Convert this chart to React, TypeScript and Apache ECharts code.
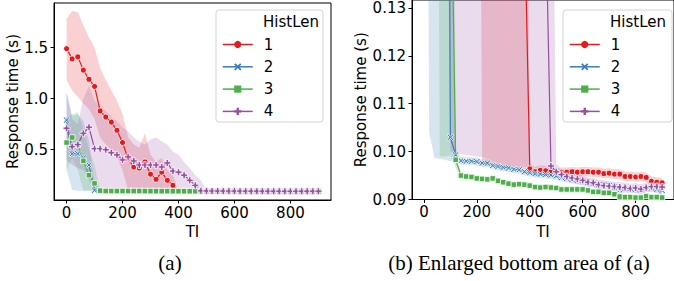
import React, { useEffect, useRef } from "react";
import * as echarts from "echarts";

// ---------- data ----------
const TI = [0, 20, 40, 60, 80, 100, 120, 140, 160, 180, 200, 220, 240, 260, 280, 300, 320, 340, 360, 380, 400, 420, 440, 460, 480, 500, 520, 540, 560, 580, 600, 620, 640, 660, 680, 700, 720, 740, 760, 780, 800, 820, 840, 860, 880, 900];

const h1Mean = [1.49, 1.39, 1.41, 1.28, 1.19, 1.12, 0.88, 0.82, 0.77, 0.69, 0.57, 0.41, 0.33, 0.32, 0.38, 0.26, 0.21, 0.28, 0.20, 0.15, 0.0964, 0.0958, 0.0961, 0.0960, 0.0958, 0.0955, 0.0957, 0.0957, 0.0958, 0.0957, 0.0958, 0.0958, 0.0957, 0.0957, 0.0954, 0.0955, 0.0953, 0.0953, 0.0948, 0.0948, 0.0947, 0.0948, 0.0946, 0.0938, 0.0936, 0.0935];
const h1Hi = [1.78, 1.86, 1.85, 1.72, 1.60, 1.50, 1.30, 1.18, 1.08, 0.98, 0.85, 0.62, 0.55, 0.52, 0.66, 0.45, 0.38, 0.42, 0.30, 0.25, 0.0974, 0.0968, 0.0971, 0.0970, 0.0968, 0.0965, 0.0967, 0.0967, 0.0968, 0.0967, 0.0968, 0.0968, 0.0967, 0.0967, 0.0964, 0.0965, 0.0963, 0.0963, 0.0958, 0.0958, 0.0957, 0.0958, 0.0956, 0.0948, 0.0946, 0.0945];
const h1Lo = [1.18, 1.08, 1.02, 0.95, 0.90, 0.80, 0.62, 0.55, 0.50, 0.42, 0.30, 0.0972, 0.0970, 0.0969, 0.0968, 0.0968, 0.0967, 0.0966, 0.0966, 0.0965, 0.0954, 0.0948, 0.0951, 0.0950, 0.0948, 0.0945, 0.0947, 0.0947, 0.0948, 0.0947, 0.0948, 0.0948, 0.0947, 0.0947, 0.0944, 0.0945, 0.0943, 0.0943, 0.0938, 0.0938, 0.0937, 0.0938, 0.0936, 0.0928, 0.0926, 0.0925];

const h2Mean = [0.79, 0.46, 0.46, 0.42, 0.35, 0.103, 0.0993, 0.0981, 0.0980, 0.0980, 0.0979, 0.0976, 0.0976, 0.0971, 0.0969, 0.0967, 0.0966, 0.0963, 0.0962, 0.0958, 0.0956, 0.0954, 0.0953, 0.0952, 0.0951, 0.0949, 0.0946, 0.0944, 0.0942, 0.0940, 0.0939, 0.0936, 0.0934, 0.0931, 0.0931, 0.0929, 0.0926, 0.0920, 0.0923, 0.0923, 0.0921, 0.0920, 0.0923, 0.0924, 0.0921, 0.0919];
const h2Hi = [1.08, 0.83, 0.85, 0.78, 0.60, 0.16, 0.1003, 0.0989, 0.0988, 0.0988, 0.0987, 0.0984, 0.0984, 0.0979, 0.0977, 0.0975, 0.0974, 0.0971, 0.0970, 0.0966, 0.0964, 0.0962, 0.0961, 0.0960, 0.0959, 0.0957, 0.0954, 0.0952, 0.0950, 0.0948, 0.0947, 0.0944, 0.0942, 0.0939, 0.0939, 0.0937, 0.0934, 0.0928, 0.0931, 0.0931, 0.0929, 0.0928, 0.0931, 0.0932, 0.0929, 0.0927];
const h2Lo = [0.30, 0.104, 0.0986, 0.0985, 0.0983, 0.0980, 0.0983, 0.0973, 0.0972, 0.0972, 0.0971, 0.0968, 0.0968, 0.0963, 0.0961, 0.0959, 0.0958, 0.0955, 0.0954, 0.0950, 0.0948, 0.0946, 0.0945, 0.0944, 0.0943, 0.0941, 0.0938, 0.0936, 0.0934, 0.0932, 0.0931, 0.0928, 0.0926, 0.0923, 0.0923, 0.0921, 0.0918, 0.0912, 0.0915, 0.0915, 0.0913, 0.0912, 0.0915, 0.0916, 0.0913, 0.0911];

const h3Mean = [0.57, 0.62, 0.55, 0.39, 0.25, 0.17, 0.0983, 0.0950, 0.0948, 0.0947, 0.0944, 0.0943, 0.0942, 0.0944, 0.0939, 0.0936, 0.0933, 0.0931, 0.0932, 0.0931, 0.0929, 0.0926, 0.0925, 0.0926, 0.0925, 0.0924, 0.0921, 0.0921, 0.0921, 0.0921, 0.0921, 0.0919, 0.0916, 0.0916, 0.0914, 0.0914, 0.0911, 0.0906, 0.0905, 0.0905, 0.0904, 0.0904, 0.0907, 0.0905, 0.0905, 0.0904];
const h3Hi = [0.82, 0.85, 0.87, 0.70, 0.50, 0.35, 0.0990, 0.0956, 0.0954, 0.0953, 0.0950, 0.0949, 0.0948, 0.0950, 0.0945, 0.0942, 0.0939, 0.0937, 0.0938, 0.0937, 0.0935, 0.0932, 0.0931, 0.0932, 0.0931, 0.0930, 0.0927, 0.0927, 0.0927, 0.0927, 0.0927, 0.0925, 0.0922, 0.0922, 0.0920, 0.0920, 0.0917, 0.0912, 0.0911, 0.0911, 0.0910, 0.0910, 0.0913, 0.0911, 0.0911, 0.0910];
const h3Lo = [0.30, 0.42, 0.30, 0.0990, 0.0990, 0.0992, 0.0965, 0.0944, 0.0942, 0.0941, 0.0938, 0.0937, 0.0936, 0.0938, 0.0933, 0.0930, 0.0927, 0.0925, 0.0926, 0.0925, 0.0923, 0.0920, 0.0919, 0.0920, 0.0919, 0.0918, 0.0915, 0.0915, 0.0915, 0.0915, 0.0915, 0.0913, 0.0910, 0.0910, 0.0908, 0.0908, 0.0905, 0.0900, 0.0899, 0.0899, 0.0898, 0.0898, 0.0901, 0.0899, 0.0899, 0.0898];

const h4Mean = [0.71, 0.53, 0.55, 0.66, 0.72, 0.51, 0.51, 0.50, 0.47, 0.45, 0.40, 0.43, 0.39, 0.35, 0.35, 0.35, 0.35, 0.33, 0.37, 0.29, 0.28, 0.25, 0.20, 0.15, 0.0970, 0.0958, 0.0952, 0.0948, 0.0945, 0.0943, 0.0940, 0.0936, 0.0935, 0.0931, 0.0929, 0.0928, 0.0927, 0.0926, 0.0925, 0.0923, 0.0924, 0.0922, 0.0925, 0.0927, 0.0927, 0.0926];
const h4Hi = [1.05, 0.80, 0.75, 1.00, 1.13, 0.98, 0.92, 0.88, 0.82, 0.78, 0.72, 0.68, 0.62, 0.58, 0.55, 0.60, 0.62, 0.58, 0.55, 0.48, 0.45, 0.38, 0.32, 0.25, 0.20, 0.0975, 0.0962, 0.0958, 0.0955, 0.0953, 0.0950, 0.0946, 0.0945, 0.0941, 0.0939, 0.0938, 0.0937, 0.0936, 0.0935, 0.0933, 0.0934, 0.0932, 0.0935, 0.0937, 0.0937, 0.0936];
const h4Lo = [0.40, 0.35, 0.32, 0.30, 0.20, 0.1000, 0.0998, 0.0995, 0.0993, 0.0992, 0.0990, 0.0988, 0.0985, 0.0980, 0.0978, 0.0975, 0.0973, 0.0971, 0.0970, 0.0968, 0.0966, 0.0965, 0.0963, 0.0962, 0.0958, 0.0948, 0.0942, 0.0938, 0.0935, 0.0933, 0.0930, 0.0926, 0.0925, 0.0921, 0.0919, 0.0918, 0.0917, 0.0916, 0.0915, 0.0913, 0.0914, 0.0912, 0.0915, 0.0917, 0.0917, 0.0916];

const SERIES_NAMES = ["1", "2", "3", "4"];
const X_TICKS = [0, 200, 400, 600, 800];
const YA_TICKS = [0.5, 1.0, 1.5];
const YB_TICKS = [0.09, 0.1, 0.11, 0.12, 0.13];

// ---------- styling ----------
const MEANS = [h1Mean, h2Mean, h3Mean, h4Mean];
const HIS = [h1Hi, h2Hi, h3Hi, h4Hi];
const LOS = [h1Lo, h2Lo, h3Lo, h4Lo];
const COLORS = ["#e41a1c", "#377eb8", "#4daf4a", "#984ea3"];
const BAND_COLORS = ["rgba(228,26,28,0.2)", "rgba(55,126,184,0.2)", "rgba(77,175,74,0.2)", "rgba(152,78,163,0.2)"];
const X_PATH = "path://M0,1 L1,0 L3,2 L5,0 L6,1 L4,3 L6,5 L5,6 L3,4 L1,6 L0,5 L2,3 Z";
const PLUS_PATH = "path://M2,0 L4,0 L4,2 L6,2 L6,4 L4,4 L4,6 L2,6 L2,4 L0,4 L0,2 L2,2 Z";
const SYMBOLS = ["circle", X_PATH, "rect", PLUS_PATH];
const SIZES = [6, 6.5, 5.5, 7];
const FONT = "'DejaVu Sans', sans-serif";
const SERIF = "'Liberation Serif', 'Times New Roman', serif";
const TXT = "#000";

function bandSeries(p: number, k: number) {
  return {
    type: "custom", name: `band${p}${k}`, xAxisIndex: p, yAxisIndex: p, silent: true, z: 1,
    data: [[TI[0], MEANS[k][0]]],
    renderItem: (params: any, api: any) => {
      const pts: number[][] = [];
      for (let i = 0; i < TI.length; i++) pts.push(api.coord([TI[i], HIS[k][i]]));
      for (let i = TI.length - 1; i >= 0; i--) pts.push(api.coord([TI[i], LOS[k][i]]));
      const cs = params.coordSys;
      return {
        type: "polygon",
        shape: { points: pts },
        style: { fill: BAND_COLORS[k], stroke: "none" },
        clipPath: { type: "rect", shape: { x: cs.x, y: cs.y, width: cs.width, height: cs.height } },
      };
    },
  };
}

function buildOption() {
  const series: any[] = [];
  for (let p = 0; p < 2; p++) {
    for (let k = 0; k < 4; k++) series.push(bandSeries(p, k));
    for (let k = 0; k < 4; k++) {
      series.push({
        type: "line", name: SERIES_NAMES[k], xAxisIndex: p, yAxisIndex: p,
        data: TI.map((x, i) => [x, MEANS[k][i]]),
        symbol: SYMBOLS[k], symbolSize: SIZES[k], showAllSymbol: true, z: 3,
        color: COLORS[k],
        lineStyle: { width: 1.2, color: COLORS[k] },
        itemStyle: { color: COLORS[k], borderColor: "#fff", borderWidth: 0.8 },
      });
    }
  }

  const xAxisCommon = (idx: number) => ({
    type: "value", gridIndex: idx, min: -45, max: 945,
    name: "TI", nameLocation: "middle", nameGap: 22,
    nameTextStyle: { fontFamily: FONT, fontSize: 15, color: TXT },
    axisLine: { show: true, onZero: false, lineStyle: { color: "#000", width: 1 } },
    axisTick: { show: true, length: 3.5, lineStyle: { color: "#000" }, customValues: X_TICKS },
    axisLabel: { fontFamily: FONT, fontSize: 15, color: TXT, margin: 5, customValues: X_TICKS },
    splitLine: { show: false },
  });

  const yAxisCommon = (idx: number, min: number, max: number, ticks: number[], digits: number, gap: number) => ({
    type: "value", gridIndex: idx, min, max,
    name: "Response time (s)", nameLocation: "middle", nameGap: gap,
    nameTextStyle: { fontFamily: FONT, fontSize: 15, color: TXT },
    axisLine: { show: true, onZero: false, lineStyle: { color: "#000" } },
    axisTick: { show: true, length: 3.5, lineStyle: { color: "#000" }, customValues: ticks },
    axisLabel: { fontFamily: FONT, fontSize: 15, color: TXT, margin: 6, customValues: ticks, formatter: (v: number) => v.toFixed(digits) },
    splitLine: { show: false },
  });

  return {
    animation: false,
    backgroundColor: "#fff",
    grid: [
      { left: 54, top: 3, width: 277, height: 197, show: true, borderColor: "#000", borderWidth: 1, backgroundColor: "transparent" },
      { left: 412, top: -2, width: 267, height: 201.5, show: true, borderColor: "#000", borderWidth: 1, backgroundColor: "transparent" },
    ],
    xAxis: [xAxisCommon(0), xAxisCommon(1)],
    yAxis: [
      yAxisCommon(0, 0.0069, 1.938, YA_TICKS, 1, 30),
      yAxisCommon(1, 0.09, 0.131654, YB_TICKS, 2, 42),
    ],
    legend: [222, 569].map((left) => ({
      data: SERIES_NAMES, orient: "vertical", left, top: 37, padding: 0,
      itemWidth: 30, itemHeight: 9, itemGap: 7.3, selectedMode: false, z: 8,
      itemStyle: { borderWidth: 0 },
      lineStyle: { width: 1.5 },
      textStyle: { fontFamily: FONT, fontSize: 15, color: TXT, lineHeight: 14, padding: [0, 0, 0, 6] },
    })),
    graphic: [
      { type: "rect", z: 6, shape: { x: 216, y: 10, width: 107, height: 112, r: 3 }, style: { fill: "rgba(255,255,255,0.8)", stroke: "#d4d4d4", lineWidth: 1 } },
      { type: "text", z: 7, x: 263, y: 22, style: { text: "HistLen", fontFamily: FONT, fontSize: 15, fill: TXT, verticalAlign: "middle" } },
      { type: "rect", z: 6, shape: { x: 563, y: 10, width: 109, height: 112, r: 3 }, style: { fill: "rgba(255,255,255,0.8)", stroke: "#d4d4d4", lineWidth: 1 } },
      { type: "text", z: 7, x: 610, y: 22, style: { text: "HistLen", fontFamily: FONT, fontSize: 15, fill: TXT, verticalAlign: "middle" } },
      { type: "text", z: 7, x: 170, y: 263, style: { text: "(a)", fontFamily: SERIF, fontSize: 21, fill: TXT, align: "center", verticalAlign: "middle" } },
      { type: "text", z: 7, x: 519, y: 263, style: { text: "(b) Enlarged bottom area of (a)", fontFamily: SERIF, fontSize: 21, fill: TXT, align: "center", verticalAlign: "middle" } },
    ],
    series,
  };
}

export default function App() {
  const ref = useRef<HTMLDivElement>(null);
  useEffect(() => {
    if (!ref.current) return;
    const chart = echarts.init(ref.current, undefined, { renderer: "svg" });
    chart.setOption(buildOption() as any);
    return () => chart.dispose();
  }, []);
  return <div ref={ref} style={{ position: "fixed", left: 0, top: 0, width: 674, height: 281, background: "#fff" }} />;
}
